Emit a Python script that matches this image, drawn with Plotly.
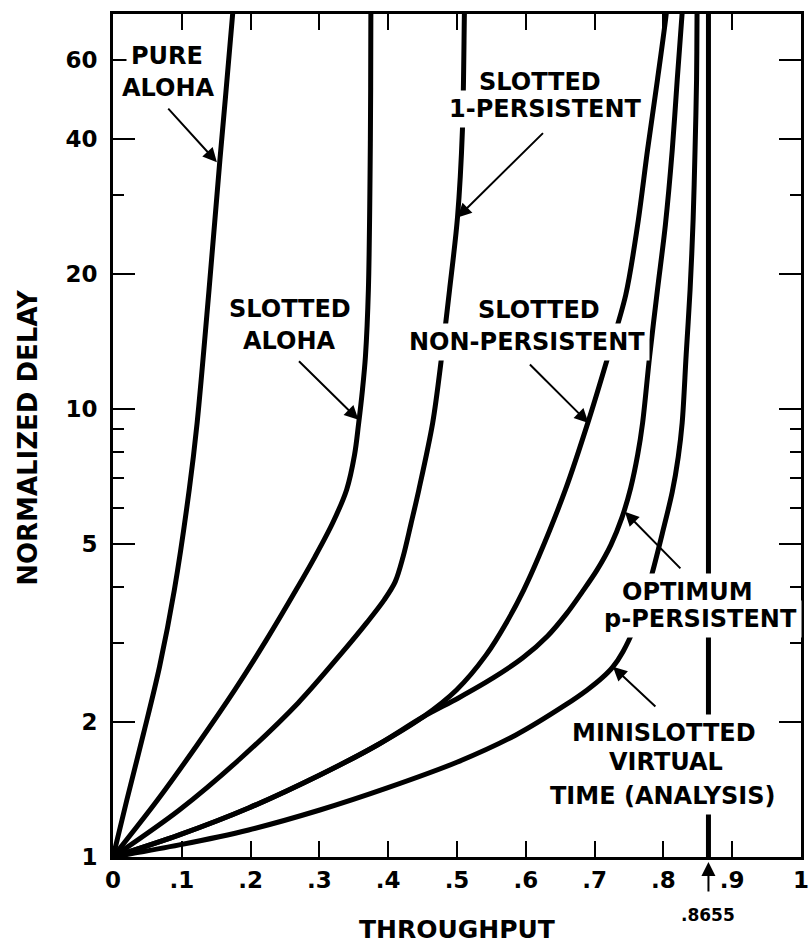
import math
import plotly.graph_objects as go

# Throughput (S) vs normalized delay for several random-access protocols
pure_aloha_s = [0, 0.0201, 0.0446, 0.0676, 0.0892, 0.1108, 0.1223, 0.1396, 0.1554, 0.1741, 0.1745]
pure_aloha_d = [1, 1.34, 1.891, 2.656, 3.945, 6.60, 9.31, 18.44, 35.96, 76.6, 80]

slotted_aloha_s = [0, 0.0647, 0.1223, 0.177, 0.223, 0.2662, 0.2935, 0.3194, 0.3396,
                   0.3511, 0.3568, 0.3626, 0.3669, 0.3712, 0.3741, 0.3748, 0.3748]
slotted_aloha_d = [1, 1.34, 1.778, 2.359, 3.05, 3.945, 4.674, 5.567, 6.60,
                   7.895, 9.21, 11.03, 13.07, 18.44, 40.06, 76.6, 80]

one_persistent_s = [0, 0.0964, 0.1827, 0.2691, 0.3338, 0.3698, 0.3942, 0.4101, 0.4216,
                    0.4331, 0.4446, 0.4647, 0.4777, 0.4892, 0.5007, 0.5079, 0.5108, 0.5112]
one_persistent_d = [1, 1.273, 1.646, 2.207, 2.868, 3.346, 3.747, 4.110, 4.674,
                    5.537, 6.60, 9.31, 13.07, 18.44, 26.7, 41.96, 76.6, 80]

non_persistent_s = [0, 0.0964, 0.1971, 0.3007, 0.3842, 0.4504, 0.4993, 0.5424, 0.5741,
                    0.5971, 0.6187, 0.6576, 0.6906, 0.7194, 0.7453, 0.7626, 0.777,
                    0.7914, 0.8043, 0.805]
non_persistent_d = [1, 1.12, 1.286, 1.524, 1.778, 2.053, 2.359, 2.825, 3.381,
                    3.945, 4.674, 6.60, 9.35, 13.07, 17.97, 25.75, 37.86,
                    54.25, 76.6, 80]

p_persistent_s = [0, 0.0964, 0.1971, 0.3007, 0.3842, 0.4504, 0.5022, 0.5525, 0.5957,
                  0.6317, 0.659, 0.682, 0.7036, 0.7237, 0.7396, 0.7525, 0.7626,
                  0.7698, 0.7799, 0.7914, 0.8029, 0.8129, 0.8201, 0.8273, 0.828]
p_persistent_d = [1, 1.12, 1.286, 1.524, 1.778, 2.053, 2.264, 2.509, 2.782,
                  3.113, 3.487, 3.904, 4.371, 4.971, 5.71, 6.664, 7.895,
                  9.31, 13.07, 18.44, 25.75, 37.86, 54.25, 76.6, 80]

minislotted_s = [0, 0.0964, 0.1971, 0.3007, 0.3986, 0.5007, 0.5856, 0.6576, 0.6892,
                 0.7108, 0.7266, 0.741, 0.7583, 0.7727, 0.7842, 0.7986, 0.8129,
                 0.8216, 0.8273, 0.8331, 0.8388, 0.8432, 0.846, 0.8482, 0.8489, 0.849]
minislotted_d = [1, 1.064, 1.149, 1.273, 1.426, 1.629, 1.872, 2.184, 2.359,
                 2.509, 2.656, 2.868, 3.262, 3.766, 4.327, 5.287, 6.527,
                 7.814, 9.31, 13.2, 18.44, 26.42, 37.86, 54.25, 76.6, 80]

capacity_s = 0.8655
capacity_d = [1, 80]

x_tick_vals = [0, 0.1, 0.2, 0.3, 0.4, 0.5, 0.6, 0.7, 0.8, 0.9, 1]
x_tick_text = ["0", ".1", ".2", ".3", ".4", ".5", ".6", ".7", ".8", ".9", "1"]
y_tick_vals = [1, 2, 5, 10, 20, 40, 60]
y_minor_vals = [3, 4, 6, 7, 8, 9, 30]
y_top = 76

FONT = "DejaVu Sans, Liberation Sans, sans-serif"
INK = "black"

fig = go.Figure()

curves = [
    ("Pure ALOHA", pure_aloha_s, pure_aloha_d),
    ("Slotted ALOHA", slotted_aloha_s, slotted_aloha_d),
    ("Slotted 1-persistent", one_persistent_s, one_persistent_d),
    ("Slotted non-persistent", non_persistent_s, non_persistent_d),
    ("Optimum p-persistent", p_persistent_s, p_persistent_d),
    ("Minislotted virtual time", minislotted_s, minislotted_d),
]
for name, s, d in curves:
    fig.add_trace(go.Scatter(
        x=s, y=d, mode="lines", name=name,
        line=dict(color=INK, width=5, shape="spline", smoothing=0.9),
    ))

fig.add_trace(go.Scatter(
    x=[capacity_s, capacity_s], y=capacity_d, mode="lines", name="capacity",
    line=dict(color=INK, width=5),
))


def ly(v):
    return math.log10(v)


def bold(size):
    return dict(family=FONT, size=size, color=INK, weight="bold")


annotations = []

# curve labels, one box per text line (white box breaks the lines underneath)
label_lines = [
    ("PURE", 0.0790, 0.9502),
    ("ALOHA", 0.0805, 0.9122),
    ("SLOTTED", 0.2572, 0.6501),
    ("ALOHA", 0.2572, 0.6121),
    ("SLOTTED", 0.6207, 0.9193),
    ("1-PERSISTENT", 0.6279, 0.8873),
    ("SLOTTED", 0.6193, 0.6489),
    ("NON-PERSISTENT", 0.6020, 0.6109),
    ("OPTIMUM", 0.8348, 0.3144),
    ("p-PERSISTENT", 0.8534, 0.2823),
    ("MINISLOTTED", 0.8003, 0.1471),
    ("VIRTUAL", 0.8032, 0.1127),
    ("TIME (ANALYSIS)", 0.7989, 0.0724),
]
for text, px, py in label_lines:
    annotations.append(dict(
        text=text, xref="paper", yref="paper", x=px, y=py,
        xanchor="center", yanchor="middle", showarrow=False,
        font=bold(24), bgcolor="white", borderpad=4,
    ))

# pointers from labels to curves
pointers = [
    (0.151, 35.5, -50, -55),
    (0.3568, 9.45, -61, -60),
    (0.5007, 26.7, 87, -86),
    (0.691, 9.3, -60, -60),
    (0.744, 5.89, 57, 58),
    (0.7266, 2.656, 44, 41),
]
for sx, dy, ax, ay in pointers:
    annotations.append(dict(
        text="", xref="x", yref="y", x=sx, y=ly(dy), ax=ax, ay=ay,
        showarrow=True, arrowhead=2, arrowsize=1.4, arrowwidth=2, arrowcolor=INK,
    ))

# capacity marker under the throughput axis
annotations.append(dict(
    text="", xref="x", yref="paper", x=capacity_s, y=-0.006, ax=0, ay=31,
    showarrow=True, arrowhead=2, arrowsize=1.4, arrowwidth=2, arrowcolor=INK,
))
annotations.append(dict(
    text=".8655", xref="x", yref="paper", x=capacity_s, y=-0.069,
    xanchor="center", yanchor="middle", showarrow=False, font=bold(17),
))

# axis titles
annotations.append(dict(
    text="THROUGHPUT", xref="paper", yref="paper", x=0.5, y=-0.086,
    xanchor="center", yanchor="middle", showarrow=False, font=bold(25),
))
annotations.append(dict(
    text="NORMALIZED DELAY", xref="paper", yref="paper", x=-0.124, y=0.498,
    xanchor="center", yanchor="middle", showarrow=False, textangle=-90,
    font=bold(26),
))

fig.update_layout(
    width=812, height=948,
    margin=dict(l=113, r=3, t=14, b=91),
    paper_bgcolor="white", plot_bgcolor="white",
    showlegend=False,
    font=bold(24),
    annotations=annotations,
)

fig.update_xaxes(
    range=[0, 1], tickmode="array", tickvals=x_tick_vals, ticktext=x_tick_text,
    ticks="inside", ticklen=16, tickwidth=2, tickcolor=INK,
    showline=True, linewidth=3, linecolor=INK, mirror="ticks",
    showgrid=False, zeroline=False, ticklabelstandoff=0,
    ticklabeloverflow="allow", tickfont=bold(23),
)
fig.update_yaxes(
    type="log", range=[0, math.log10(y_top)],
    tickmode="array", tickvals=y_tick_vals, ticktext=[str(v) for v in y_tick_vals],
    ticks="inside", ticklen=22, tickwidth=2, tickcolor=INK,
    minor=dict(tickmode="array", tickvals=y_minor_vals, ticks="inside",
               ticklen=11, tickwidth=2, tickcolor=INK, showgrid=False),
    showline=True, linewidth=3, linecolor=INK, mirror="ticks",
    showgrid=False, zeroline=False, ticklabelstandoff=8,
    ticklabeloverflow="allow", tickfont=bold(23),
)

fig.write_html("out.html")
